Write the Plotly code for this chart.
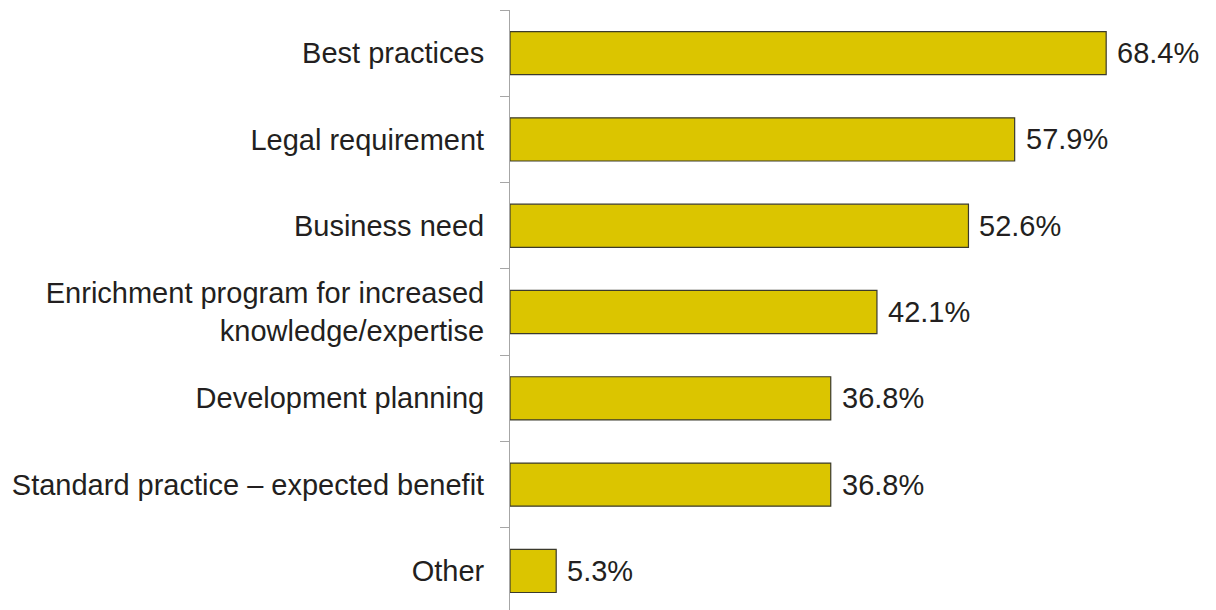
import plotly.graph_objects as go

categories = [
    "Best practices",
    "Legal requirement",
    "Business need",
    "Enrichment program for increased<br>knowledge/expertise",
    "Development planning",
    "Standard practice – expected benefit",
    "Other",
]
values = [68.4, 57.9, 52.6, 42.1, 36.8, 36.8, 5.3]
value_labels = ["68.4%", "57.9%", "52.6%", "42.1%", "36.8%", "36.8%", "5.3%"]

FONT = "Arial, 'Liberation Sans', Helvetica, sans-serif"
TEXT = "#231f20"
SIZE = 29

fig = go.Figure()
fig.add_trace(go.Bar(
    x=values,
    y=categories,
    orientation="h",
    width=0.5,
    marker=dict(color="#dbc500", line=dict(color="#3b3a2c", width=1.2)),
    hoverinfo="skip",
))

# percentage labels just past the end of each bar
for cat, val, lab in zip(categories, values, value_labels):
    fig.add_annotation(
        x=val, y=cat, text=lab, showarrow=False,
        xanchor="left", yanchor="middle", xshift=9,
        font=dict(family=FONT, size=SIZE, color=TEXT),
    )

fig.update_layout(
    width=1216, height=610,
    margin=dict(l=510, r=0, t=10, b=0),
    paper_bgcolor="white", plot_bgcolor="white",
    showlegend=False,
    font=dict(family=FONT, size=SIZE, color=TEXT),
    xaxis=dict(range=[0, 81], visible=False, fixedrange=True),
    yaxis=dict(
        type="category",
        categoryorder="array", categoryarray=categories,
        range=[6.453, -0.5],
        tickson="boundaries",
        ticks="outside", ticklen=9, tickcolor="#a6a6a6", tickwidth=1,
        showline=True, linecolor="#a6a6a6", linewidth=1,
        showgrid=False, zeroline=False,
        ticklabelstandoff=19,
        tickfont=dict(family=FONT, size=SIZE, color=TEXT),
    ),
)

fig.write_html("out.html")
